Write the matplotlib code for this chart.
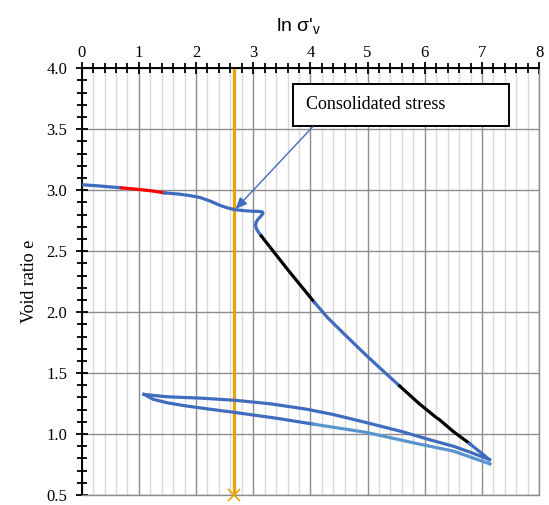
import matplotlib
matplotlib.use("Agg")
import matplotlib.pyplot as plt
from matplotlib.ticker import MultipleLocator
from matplotlib.patches import Rectangle

plt.rcParams['font.family'] = ['Liberation Serif', 'DejaVu Serif']
plt.rcParams['mathtext.fontset'] = 'custom'
plt.rcParams['mathtext.rm'] = 'Liberation Sans'
plt.rcParams['mathtext.it'] = 'Liberation Sans'

# loading curve, split by colour
x_start = [0.0, 0.3, 0.7]
e_start = [3.045, 3.035, 3.019]

x_red = [0.7, 1.0, 1.25, 1.45]
e_red = [3.019, 3.006, 2.993, 2.978]

x_blue1 = [1.45, 1.7, 1.9, 2.07, 2.25, 2.42, 2.55, 2.68, 2.85, 3.0, 3.1, 3.16,
           3.17, 3.13, 3.08, 3.05, 3.04, 3.06, 3.1, 3.14]
e_blue1 = [2.978, 2.968, 2.955, 2.94, 2.91, 2.875, 2.855, 2.84, 2.832, 2.827, 2.826, 2.822,
           2.808, 2.785, 2.76, 2.735, 2.71, 2.68, 2.65, 2.625]

x_black1 = [3.14, 3.6, 4.07]
e_black1 = [2.625, 2.35, 2.08]

x_blue2 = [4.07, 4.3, 4.57, 4.8, 5.0, 5.3, 5.56]
e_blue2 = [2.08, 1.955, 1.83, 1.725, 1.635, 1.505, 1.394]

x_black2 = [5.56, 5.9, 6.2, 6.25, 6.5, 6.78]
e_black2 = [1.394, 1.25, 1.135, 1.12, 1.02, 0.923]

x_blue3 = [6.78, 7.13]
e_blue3 = [0.923, 0.79]

# unloading
x_unload = [7.13, 6.8, 6.5, 6.14, 5.6, 4.97, 4.4, 3.93, 3.3, 2.68, 2.1, 1.48, 1.09]
e_unload = [0.79, 0.85, 0.90, 0.946, 1.02, 1.095, 1.16, 1.204, 1.248, 1.277, 1.294, 1.306, 1.325]

# reloading
x_reload = [1.09, 1.25, 1.5, 1.83, 2.24, 2.68, 3.4, 4.04]
e_reload = [1.325, 1.285, 1.256, 1.23, 1.204, 1.177, 1.13, 1.082]

x_reload2 = [4.04, 4.97, 5.9, 6.5, 7.14]
e_reload2 = [1.082, 1.014, 0.918, 0.86, 0.755]

consolidated_x = 2.67
consolidated_e = 2.84

blue = '#3f6cbf'
light_blue = '#5a94cf'

fig = plt.figure(figsize=(5.49, 5.05), dpi=100)
ax = fig.add_axes([0.1488, 0.0198, 0.8333, 0.845])

ax.set_xlim(0, 8)
ax.set_ylim(0.5, 4.0)

ax.xaxis.set_major_locator(MultipleLocator(1))
ax.xaxis.set_minor_locator(MultipleLocator(0.2))
ax.yaxis.set_major_locator(MultipleLocator(0.5))
ax.yaxis.set_minor_locator(MultipleLocator(0.1))

ax.xaxis.tick_top()
ax.xaxis.set_label_position('top')
ax.tick_params(axis='both', which='major', direction='inout', length=9, width=1.3,
               labelsize=12, colors='black')
ax.tick_params(axis='both', which='minor', direction='inout', length=7, width=1.3)
ax.tick_params(axis='x', pad=1)
ax.tick_params(axis='y', pad=6)
ax.yaxis.set_major_formatter(plt.FormatStrFormatter('%.1f'))

ax.grid(which='minor', axis='x', color='#d9d9d9', lw=1.0)
ax.grid(which='major', axis='x', color='#8c8c8c', lw=1.0)
ax.grid(which='major', axis='y', color='#8c8c8c', lw=1.0)
ax.set_axisbelow(True)

for s in ['left', 'top']:
    ax.spines[s].set_color('black')
    ax.spines[s].set_linewidth(1.4)
for s in ['right', 'bottom']:
    ax.spines[s].set_color('#8c8c8c')
    ax.spines[s].set_linewidth(1.0)

lw = 2.3
# orange consolidated stress line
ax.plot([consolidated_x, consolidated_x], [0.5, 4.0], color='#e9a10c', lw=lw, zorder=2)
ax.plot([consolidated_x], [0.5], marker='x', color='#e9a10c', ms=8, mew=1.2, clip_on=False, zorder=5)

ax.plot(x_start, e_start, color=blue, lw=lw, solid_capstyle='round', zorder=3)
ax.plot(x_red, e_red, color='#ff0000', lw=lw, zorder=3)
ax.plot(x_blue1, e_blue1, color=blue, lw=lw, solid_joinstyle='round', zorder=3)
ax.plot(x_black1, e_black1, color='black', lw=lw, zorder=3)
ax.plot(x_blue2, e_blue2, color=blue, lw=lw, solid_joinstyle='round', zorder=3)
ax.plot(x_black2, e_black2, color='black', lw=lw, solid_joinstyle='round', zorder=3)
ax.plot(x_blue3, e_blue3, color=blue, lw=lw, zorder=3)
ax.plot(x_unload, e_unload, color=blue, lw=lw, solid_joinstyle='round', zorder=3)
ax.plot(x_reload, e_reload, color=blue, lw=lw, solid_joinstyle='round', zorder=3)
ax.plot(x_reload2, e_reload2, color=light_blue, lw=lw, solid_joinstyle='round', zorder=3)

# text box with arrow
ax.add_patch(Rectangle((3.69, 3.524), 3.79, 0.346, facecolor='white', edgecolor='black',
                       lw=1.4, zorder=6))
ax.text(3.93, 3.70, 'Consolidated stress', fontsize=13, va='center', ha='left', zorder=7)
ax.annotate('', xy=(consolidated_x + 0.02, consolidated_e + 0.005), xytext=(4.04, 3.52),
            arrowprops=dict(arrowstyle='-|>,head_length=0.7,head_width=0.3', color=blue,
                            lw=1.0, shrinkA=0, shrinkB=0), zorder=6)

ax.set_xlabel("ln σ'$_\\mathregular{v}$", fontsize=14, family='Liberation Sans')
ax.xaxis.set_label_coords(0.475, 1.088)
ax.set_ylabel('Void ratio e', fontsize=13)
ax.yaxis.set_label_coords(-0.095, 0.5)

fig.savefig('out.png', dpi=100)
